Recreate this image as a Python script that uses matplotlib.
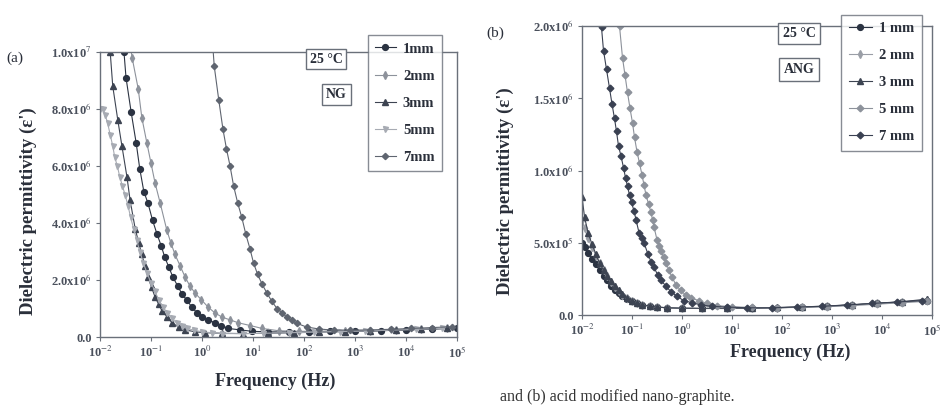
import numpy as np
import matplotlib
matplotlib.use('Agg')
import matplotlib.pyplot as plt

plt.rcParams['font.family'] = ['Liberation Serif', 'DejaVu Serif']
plt.rcParams['mathtext.fontset'] = 'stix'

# ---- data (log10 of frequency, permittivity) ----
# panel (a): natural graphite, eps in units of 1e7
a_1mm_logf = [-1.60, -1.53, -1.49, -1.39, -1.29, -1.22, -1.14, -1.06, -0.97, -0.88, -0.80, -0.73, -0.65, -0.57,
              -0.48, -0.39, -0.30, -0.20, -0.10, 0.0, 0.12, 0.25, 0.38, 0.51, 0.75, 0.98, 1.3, 1.7, 2.1, 2.5,
              3.0, 3.5, 4.0, 4.5, 5.0]
a_1mm_eps = [1.10, 1.0, 0.91, 0.79, 0.68, 0.59, 0.51, 0.47, 0.41, 0.36, 0.32, 0.28, 0.245, 0.21,
             0.18, 0.15, 0.13, 0.105, 0.085, 0.07, 0.06, 0.05, 0.04, 0.03, 0.025, 0.02, 0.018, 0.018, 0.018, 0.02,
             0.02, 0.022, 0.025, 0.028, 0.032]
a_2mm_logf = [-1.45, -1.37, -1.25, -1.18, -1.08, -1.00, -0.92, -0.82, -0.69, -0.61, -0.53, -0.43, -0.33, -0.24,
              -0.14, -0.01, 0.12, 0.25, 0.39, 0.55, 0.71, 0.95, 1.18, 1.5, 1.9, 2.3, 2.8, 3.3, 3.8, 4.3, 4.8]
a_2mm_eps = [1.08, 0.98, 0.87, 0.77, 0.68, 0.61, 0.54, 0.47, 0.375, 0.33, 0.29, 0.25, 0.21, 0.18,
             0.155, 0.13, 0.105, 0.085, 0.07, 0.06, 0.05, 0.04, 0.03, 0.022, 0.02, 0.02, 0.02, 0.022, 0.024, 0.027, 0.03]
a_3mm_logf = [-1.85, -1.80, -1.75, -1.65, -1.57, -1.47, -1.41, -1.31, -1.24, -1.18, -1.12, -1.06, -0.99, -0.92,
              -0.85, -0.78, -0.68, -0.59, -0.46, -0.33, -0.13, 0.06, 0.4, 0.8, 1.3, 1.8, 2.3, 2.8, 3.3, 3.8, 4.3, 4.8]
a_3mm_eps = [1.1, 1.0, 0.88, 0.76, 0.67, 0.56, 0.48, 0.38, 0.33, 0.29, 0.25, 0.21, 0.175, 0.14,
             0.115, 0.09, 0.07, 0.05, 0.035, 0.025, 0.018, 0.015, 0.013, 0.012, 0.013, 0.015, 0.017, 0.019, 0.021,
             0.024, 0.027, 0.03]
a_5mm_logf = [-2.0, -1.95, -1.90, -1.85, -1.80, -1.75, -1.71, -1.66, -1.61, -1.56, -1.51, -1.45, -1.40, -1.34,
              -1.28, -1.22, -1.15, -1.08, -1.00, -0.92, -0.85, -0.77, -0.68, -0.59, -0.50, -0.40, -0.30, -0.15,
              0.0, 0.2, 0.4, 0.8, 1.2, 1.7, 2.2, 2.7, 3.2, 3.7, 4.2, 4.7]
a_5mm_eps = [0.80, 0.80, 0.78, 0.75, 0.71, 0.67, 0.63, 0.60, 0.56, 0.53, 0.50, 0.46, 0.42, 0.38,
             0.34, 0.30, 0.26, 0.225, 0.19, 0.16, 0.13, 0.105, 0.085, 0.065, 0.05, 0.04, 0.03, 0.024,
             0.018, 0.015, 0.012, 0.012, 0.013, 0.015, 0.017, 0.019, 0.021, 0.024, 0.027, 0.03]
a_7mm_logf = [0.18, 0.24, 0.33, 0.41, 0.48, 0.55, 0.62, 0.70, 0.78, 0.86, 0.94, 1.01, 1.09, 1.18, 1.27,
              1.37, 1.47, 1.57, 1.66, 1.76, 1.86, 2.05, 2.3, 2.58, 2.9, 3.3, 3.7, 4.1, 4.5, 4.9]
a_7mm_eps = [1.1, 0.95, 0.83, 0.73, 0.66, 0.60, 0.53, 0.47, 0.42, 0.36, 0.31, 0.26, 0.22, 0.185, 0.155,
             0.125, 0.10, 0.085, 0.07, 0.058, 0.048, 0.035, 0.028, 0.024, 0.024, 0.025, 0.027, 0.03, 0.033, 0.036]

# panel (b): acid modified nano-graphite, eps in units of 1e6
b_low_logf = [-2.0, -1.95, -1.88, -1.80, -1.72, -1.65, -1.57, -1.50, -1.42, -1.35, -1.27, -1.20, -1.10, -1.0,
              -0.9, -0.8, -0.65, -0.5, -0.3, 0.0, 0.4, 0.9, 1.4, 1.9, 2.4, 2.9, 3.4, 3.9, 4.4, 4.9]
b_1mm_eps = [0.50, 0.47, 0.43, 0.39, 0.35, 0.31, 0.27, 0.24, 0.20, 0.175, 0.15, 0.13, 0.11, 0.095,
             0.08, 0.07, 0.06, 0.055, 0.05, 0.047, 0.045, 0.045, 0.047, 0.05, 0.055, 0.06, 0.07, 0.08, 0.09, 0.10]
b_2mm_eps = [0.66, 0.60, 0.53, 0.47, 0.41, 0.36, 0.31, 0.27, 0.23, 0.195, 0.165, 0.14, 0.115, 0.097,
             0.082, 0.07, 0.06, 0.054, 0.05, 0.046, 0.045, 0.046, 0.048, 0.05, 0.055, 0.06, 0.07, 0.08, 0.09, 0.105]
b_3mm_eps = [0.82, 0.68, 0.57, 0.49, 0.42, 0.36, 0.31, 0.27, 0.235, 0.2, 0.17, 0.145, 0.12, 0.1,
             0.085, 0.072, 0.062, 0.055, 0.05, 0.047, 0.046, 0.047, 0.049, 0.052, 0.056, 0.062, 0.07, 0.08, 0.092, 0.11]
b_5mm_logf = [-1.30, -1.25, -1.19, -1.14, -1.09, -1.04, -0.99, -0.95, -0.90, -0.85, -0.80, -0.76, -0.72, -0.67,
              -0.62, -0.59, -0.56, -0.50, -0.46, -0.42, -0.37, -0.32, -0.26, -0.20, -0.12, -0.03, 0.07, 0.17,
              0.33, 0.49, 0.7, 1.0, 1.4, 1.9, 2.4, 2.9, 3.4, 3.9, 4.4, 4.9]
b_5mm_eps = [2.2, 2.0, 1.78, 1.66, 1.54, 1.43, 1.33, 1.23, 1.13, 1.05, 0.97, 0.90, 0.83, 0.77,
             0.71, 0.66, 0.61, 0.52, 0.48, 0.44, 0.40, 0.36, 0.31, 0.26, 0.21, 0.17, 0.14, 0.12,
             0.10, 0.08, 0.065, 0.057, 0.052, 0.05, 0.053, 0.058, 0.065, 0.075, 0.085, 0.095]
b_7mm_logf = [-1.65, -1.61, -1.57, -1.51, -1.45, -1.40, -1.35, -1.31, -1.27, -1.22, -1.17, -1.13, -1.09, -1.05,
              -1.01, -0.96, -0.92, -0.86, -0.81, -0.76, -0.68, -0.62, -0.56, -0.49, -0.42, -0.32, -0.22, -0.10,
              0.03, 0.2, 0.37, 0.6, 0.9, 1.3, 1.8, 2.3, 2.8, 3.3, 3.8, 4.3, 4.8]
b_7mm_eps = [2.2, 1.99, 1.83, 1.70, 1.57, 1.46, 1.36, 1.27, 1.17, 1.10, 1.02, 0.95, 0.89, 0.83,
             0.78, 0.72, 0.66, 0.57, 0.53, 0.50, 0.42, 0.37, 0.33, 0.28, 0.24, 0.20, 0.16, 0.13,
             0.10, 0.085, 0.07, 0.06, 0.055, 0.05, 0.05, 0.055, 0.06, 0.07, 0.08, 0.09, 0.10]

labels = ['1mm', '2mm', '3mm', '5mm', '7mm']
labels_b = ['1 mm', '2 mm', '3 mm', '5 mm', '7 mm']
xtick_labels = ['10$^{-2}$', '10$^{-1}$', '10$^{0}$', '10$^{1}$', '10$^{2}$', '10$^{3}$', '10$^{4}$', '10$^{5}$']
a_yticks = [0, 2e6, 4e6, 6e6, 8e6, 1e7]
a_ytick_labels = ['0.0', '2.0x10$^{6}$', '4.0x10$^{6}$', '6.0x10$^{6}$', '8.0x10$^{6}$', '1.0x10$^{7}$']
b_yticks = [0, 5e5, 1e6, 1.5e6, 2e6]
b_ytick_labels = ['0.0', '5.0x10$^{5}$', '1.0x10$^{6}$', '1.5x10$^{6}$', '2.0x10$^{6}$']

styles = [dict(marker='o', color='#2b3342', ms=4.2),
          dict(marker='d', color='#8d929b', ms=3.6),
          dict(marker='^', color='#3d4452', ms=4.0),
          dict(marker='v', color='#a7abb3', ms=3.6),
          dict(marker='D', color='#5f6570', ms=3.2)]
styles_b = [dict(marker='o', color='#2b3342', ms=4.2),
            dict(marker='d', color='#9a9ea6', ms=3.6),
            dict(marker='^', color='#3d4452', ms=4.0),
            dict(marker='D', color='#8d929b', ms=3.4),
            dict(marker='D', color='#3a4152', ms=3.4)]
frame_col = '#6a707a'
txt_col = '#2a2f3a'


def style_axes(ax, yticks, yticklabels, top):
    ax.set_xscale('log')
    ax.set_xlim(1e-2, 1e5)
    ax.set_ylim(0, top)
    ax.set_xticks([10.0 ** k for k in range(-2, 6)])
    ax.set_xticklabels(xtick_labels)
    ax.minorticks_off()
    ax.set_yticks(yticks)
    ax.set_yticklabels(yticklabels)
    ax.tick_params(direction='out', length=3, width=0.8, colors=frame_col, labelcolor='#4a505c',
                   labelsize=9, pad=3)
    for lab in ax.get_xticklabels() + ax.get_yticklabels():
        lab.set_fontweight('bold')
    for sp in ax.spines.values():
        sp.set_color(frame_col)
        sp.set_linewidth(1.0)


def draw(ax, series, scale, labs, sty):
    hs = []
    for (lf, ep), st, lab in zip(series, sty, labs):
        h, = ax.plot(10.0 ** np.array(lf), np.array(ep) * scale, lw=0.8, label=lab,
                     marker=st['marker'], ms=st['ms'], color=st['color'], mec=st['color'])
        hs.append(h)
    return hs


fig = plt.figure(figsize=(9.44, 4.05), dpi=100)
fig.patch.set_facecolor('white')

# ---- panel (a) ----
ax1 = fig.add_axes([100 / 944, 1 - 337 / 405, 357 / 944, 285 / 405])
hs = draw(ax1, [(a_1mm_logf, a_1mm_eps), (a_2mm_logf, a_2mm_eps), (a_3mm_logf, a_3mm_eps),
                (a_5mm_logf, a_5mm_eps), (a_7mm_logf, a_7mm_eps)], 1e7, labels, styles)
style_axes(ax1, a_yticks, a_ytick_labels, 1e7)
leg = ax1.legend(handles=hs, loc='upper left', bbox_to_anchor=(0.73, 1.085), frameon=True, fancybox=False,
                 edgecolor=frame_col, handlelength=1.4, handletextpad=0.5, labelspacing=0.95, borderpad=0.5,
                 prop=dict(weight='bold', size=10.5))
leg.get_frame().set_linewidth(1.0)
for t in leg.get_texts():
    t.set_color(txt_col)
ax1.text(0.633, 0.975, '25 °C', transform=ax1.transAxes, ha='center', va='center', fontsize=10,
         fontweight='bold', color=txt_col, bbox=dict(boxstyle='square,pad=0.25', fc='white', ec=frame_col, lw=1.0))
ax1.text(0.662, 0.85, 'NG', transform=ax1.transAxes, ha='center', va='center', fontsize=10,
         fontweight='bold', color=txt_col, bbox=dict(boxstyle='square,pad=0.3', fc='white', ec=frame_col, lw=1.0))
ax1.text(-0.2, 0.44, "Dielectric permittivity (ε')", transform=ax1.transAxes, rotation=90, ha='center',
         va='center', fontsize=13.5, fontweight='bold', color=txt_col)
ax1.text(0.49, -0.155, 'Frequency (Hz)', transform=ax1.transAxes, ha='center', va='center', fontsize=13,
         fontweight='bold', color=txt_col)
fig.text(15 / 944, 1 - 58 / 405, '(a)', ha='center', va='center', fontsize=11, color=txt_col)

# ---- panel (b) ----
ax2 = fig.add_axes([582 / 944, 1 - 315 / 405, 350 / 944, 289 / 405])
hs = draw(ax2, [(b_low_logf, b_1mm_eps), (b_low_logf, b_2mm_eps), (b_low_logf, b_3mm_eps),
                (b_5mm_logf, b_5mm_eps), (b_7mm_logf, b_7mm_eps)], 1e6, labels_b, styles_b)
style_axes(ax2, b_yticks, b_ytick_labels, 2e6)
leg = ax2.legend(handles=hs, loc='upper left', bbox_to_anchor=(0.72, 1.065), frameon=True, fancybox=False,
                 edgecolor=frame_col, handlelength=1.6, handletextpad=0.5, labelspacing=0.95, borderpad=0.5,
                 prop=dict(weight='bold', size=10.5))
leg.get_frame().set_linewidth(1.0)
for t in leg.get_texts():
    t.set_color(txt_col)
ax2.text(0.62, 0.975, '25 °C', transform=ax2.transAxes, ha='center', va='center', fontsize=10,
         fontweight='bold', color=txt_col, bbox=dict(boxstyle='square,pad=0.3', fc='white', ec=frame_col, lw=1.0))
ax2.text(0.62, 0.85, 'ANG', transform=ax2.transAxes, ha='center', va='center', fontsize=10,
         fontweight='bold', color=txt_col, bbox=dict(boxstyle='square,pad=0.35', fc='white', ec=frame_col, lw=1.0))
ax2.text(-0.218, 0.43, "Dielectric permittivity (ε')", transform=ax2.transAxes, rotation=90, ha='center',
         va='center', fontsize=13.5, fontweight='bold', color=txt_col)
ax2.text(0.594, -0.128, 'Frequency (Hz)', transform=ax2.transAxes, ha='center', va='center', fontsize=13,
         fontweight='bold', color=txt_col)
fig.text(495 / 944, 1 - 33 / 405, '(b)', ha='center', va='center', fontsize=11, color=txt_col)

# caption line at the foot of the scan
fig.text(500 / 944, 1 - 397 / 405, 'and (b) acid modified nano-graphite.', ha='left', va='center',
         fontsize=11.5, color='#333333')

fig.savefig('out.png', dpi=100)
